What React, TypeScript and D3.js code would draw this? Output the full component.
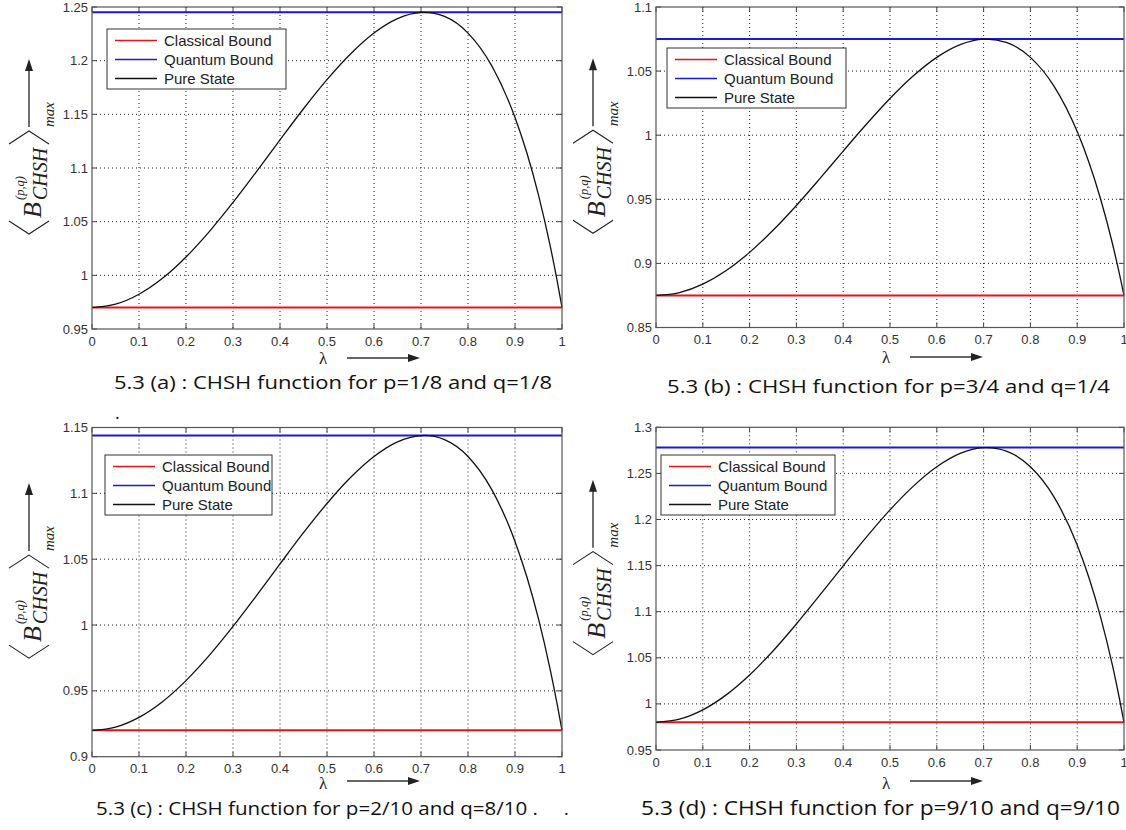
import React from "react";
import * as d3 from "d3";

// lambda samples
const lambdaGrid = [0, 0.05, 0.1, 0.15, 0.2, 0.25, 0.3, 0.35, 0.4, 0.45, 0.5, 0.55, 0.6, 0.65, 0.7, 0.7071, 0.75, 0.8, 0.85, 0.9, 0.925, 0.95, 0.975, 0.99, 1];

const pureStateA = [0.97, 0.9731, 0.9824, 0.9972, 1.0171, 1.041, 1.0679, 1.0967, 1.1262, 1.1552, 1.1823, 1.2062, 1.2257, 1.2391, 1.2449, 1.245, 1.2412, 1.2257, 1.1956, 1.1471, 1.1144, 1.0748, 1.0272, 0.9942, 0.97];
const pureStateB = [0.875, 0.8772, 0.8838, 0.8944, 0.9086, 0.9258, 0.9452, 0.9661, 0.9876, 1.0087, 1.0286, 1.0463, 1.0607, 1.0706, 1.0749, 1.075, 1.0722, 1.0607, 1.0385, 1.0028, 0.9789, 0.9502, 0.9159, 0.8922, 0.875];
const pureStateC = [0.92, 0.9225, 0.9299, 0.9418, 0.9578, 0.9771, 0.9989, 1.0223, 1.0464, 1.0701, 1.0923, 1.112, 1.128, 1.1391, 1.1439, 1.144, 1.1408, 1.128, 1.1032, 1.0635, 1.0368, 1.0046, 0.966, 0.9394, 0.92];
const pureStateD = [0.98, 0.9834, 0.9935, 1.0098, 1.0314, 1.0574, 1.0867, 1.1179, 1.1498, 1.1811, 1.2104, 1.2362, 1.2572, 1.2717, 1.2779, 1.278, 1.2739, 1.2572, 1.2248, 1.1724, 1.1371, 1.0942, 1.0425, 1.0064, 0.98];

const classicalBound = [0.97, 0.875, 0.92, 0.98];
const quantumBound = [1.245, 1.075, 1.144, 1.278];

const xTickValues = [0, 0.1, 0.2, 0.3, 0.4, 0.5, 0.6, 0.7, 0.8, 0.9, 1];
const yTicksA = [0.95, 1, 1.05, 1.1, 1.15, 1.2, 1.25];
const yTicksB = [0.85, 0.9, 0.95, 1, 1.05, 1.1];
const yTicksC = [0.9, 0.95, 1, 1.05, 1.1, 1.15];
const yTicksD = [0.95, 1, 1.05, 1.1, 1.15, 1.2, 1.25, 1.3];

const legendLabels = ["Classical Bound", "Quantum Bound", "Pure State"];
const captions = [
  "5.3 (a) : CHSH function for p=1/8 and q=1/8",
  "5.3 (b) : CHSH function for p=3/4 and q=1/4",
  "5.3 (c) : CHSH function for p=2/10 and q=8/10 .",
  "5.3 (d) : CHSH function for p=9/10 and q=9/10",
];

const series = [pureStateA, pureStateB, pureStateC, pureStateD];
const yTicks = [yTicksA, yTicksB, yTicksC, yTicksD];

// page layout of the four panels
const layout = [
  { left: 92, right: 562, top: 7, bottom: 329, legend: [107, 29, 179], caption: [114, 389, 438, 18], arrowY: 358, lambdaY: 364 },
  { left: 656, right: 1124, top: 7, bottom: 327.5, legend: [667, 48, 179], caption: [667, 393, 443, 18], arrowY: 357, lambdaY: 363 },
  { left: 92, right: 562, top: 427.5, bottom: 756.7, legend: [105, 455, 167], caption: [96, 815, 442, 18], arrowY: 781, lambdaY: 789 },
  { left: 656, right: 1124, top: 427.3, bottom: 750, legend: [661, 455, 174], caption: [641, 815, 479, 19.5], arrowY: 781, lambdaY: 789 },
];

const lineColors = ["#e8141b", "#1a1ad8", "#111"];
const sans = "'Liberation Sans', Arial, sans-serif";
const serif = "'Liberation Serif', 'DejaVu Serif', serif";
const fmt = d3.format("~g");

const YLabel = ({ x, cy }: { x: number; cy: number }) => {
  const ax = x - 63;
  return (
    <g>
      <line x1={ax} x2={ax} y1={cy - 41} y2={cy - 100} stroke="#333" strokeWidth={1.4} />
      <path d={`M${ax},${cy - 109} L${ax - 4},${cy - 97} L${ax + 4},${cy - 97} Z`} fill="#222" />
      <g transform={`translate(${x - 51},${cy}) rotate(-90)`} fill="#222" fontFamily={serif} fontStyle="italic">
        <path d="M-53,-32 L-66,-12 L-53,8" fill="none" stroke="#222" strokeWidth={1.1} />
        <text x={-50} y={0} fontSize={26}>B</text>
        <text x={-32} y={-17} fontSize={12.5}>(p,q)</text>
        <text x={-32} y={6} fontSize={20}>CHSH</text>
        <path d="M24,-32 L37,-12 L24,8" fill="none" stroke="#222" strokeWidth={1.1} />
        <text x={41} y={13} fontSize={15}>max</text>
      </g>
    </g>
  );
};

const Panel = ({ i }: { i: number }) => {
  const L = layout[i];
  const x = d3.scaleLinear().domain([0, 1]).range([L.left, L.right]);
  const yt = yTicks[i];
  const y = d3.scaleLinear().domain([yt[0], yt[yt.length - 1]]).range([L.bottom, L.top]);
  const pts = lambdaGrid.map((l, k) => [l, series[i][k]] as [number, number]);
  const line = d3
    .line<[number, number]>()
    .x((d) => x(d[0]))
    .y((d) => y(d[1]))
    .curve(d3.curveMonotoneX);
  const [lx, ly, lw] = L.legend;
  const [cx, cyCap, cw, cfs] = L.caption;
  const midX = (L.left + L.right) / 2;
  const midY = (L.top + L.bottom) / 2;
  const tickLen = 5;
  return (
    <g>
      {/* grid */}
      {xTickValues.slice(1, -1).map((t) => (
        <line key={"gx" + t} x1={x(t)} x2={x(t)} y1={L.top} y2={L.bottom} stroke="#222" strokeWidth={1} strokeDasharray="1 3" />
      ))}
      {yt.slice(1, -1).map((t) => (
        <line key={"gy" + t} x1={L.left} x2={L.right} y1={y(t)} y2={y(t)} stroke="#222" strokeWidth={1} strokeDasharray="1 3" />
      ))}
      {/* inward ticks on all sides */}
      {xTickValues.map((t) => (
        <g key={"tx" + t} stroke="#444">
          <line x1={x(t)} x2={x(t)} y1={L.bottom} y2={L.bottom - tickLen} />
          <line x1={x(t)} x2={x(t)} y1={L.top} y2={L.top + tickLen} />
        </g>
      ))}
      {yt.map((t) => (
        <g key={"ty" + t} stroke="#444">
          <line x1={L.left} x2={L.left + tickLen} y1={y(t)} y2={y(t)} />
          <line x1={L.right} x2={L.right - tickLen} y1={y(t)} y2={y(t)} />
        </g>
      ))}
      {/* bounds and curve */}
      <line x1={x(0)} x2={x(1)} y1={y(classicalBound[i])} y2={y(classicalBound[i])} stroke={lineColors[0]} strokeWidth={2} />
      <line x1={x(0)} x2={x(1)} y1={y(quantumBound[i])} y2={y(quantumBound[i])} stroke={lineColors[1]} strokeWidth={2} />
      <path d={line(pts) || ""} fill="none" stroke={lineColors[2]} strokeWidth={1.3} />
      {/* frame */}
      <rect x={L.left} y={L.top} width={L.right - L.left} height={L.bottom - L.top} fill="none" stroke="#555" strokeWidth={1.2} />
      {/* tick labels */}
      {xTickValues.map((t) => (
        <text key={"lx" + t} x={x(t)} y={L.bottom + 16.5} textAnchor="middle" fontSize={13} fontFamily={sans} fill="#333">
          {fmt(t)}
        </text>
      ))}
      {yt.map((t) => (
        <text key={"ly" + t} x={L.left - 4} y={y(t) + 4.5} textAnchor="end" fontSize={13} fontFamily={sans} fill="#333">
          {fmt(t)}
        </text>
      ))}
      {/* legend */}
      <rect x={lx} y={ly} width={lw} height={60} fill="#fff" stroke="#333" strokeWidth={1} />
      {legendLabels.map((lab, k) => {
        const yy = ly + 11.5 + k * 19;
        return (
          <g key={lab}>
            <line x1={lx + 8} x2={lx + 50} y1={yy} y2={yy} stroke={lineColors[k]} strokeWidth={1.6} />
            <text x={lx + 57} y={yy + 5} fontSize={15} fontFamily={sans} fill="#222">
              {lab}
            </text>
          </g>
        );
      })}
      {/* x label */}
      <text x={midX - 4} y={L.lambdaY} textAnchor="middle" fontSize={17} fontFamily={serif} fill="#222">
        λ
      </text>
      <line x1={midX + 20} x2={midX + 84} y1={L.arrowY} y2={L.arrowY} stroke="#333" strokeWidth={1.4} />
      <path d={`M${midX + 93},${L.arrowY} L${midX + 81},${L.arrowY - 4} L${midX + 81},${L.arrowY + 4} Z`} fill="#222" />
      <YLabel x={L.left} cy={midY} />
      {/* caption */}
      <text x={cx} y={cyCap} fontSize={cfs} fontFamily="'Open Sans', 'Noto Sans', sans-serif" fill="#111" textLength={cw} lengthAdjust="spacingAndGlyphs">
        {captions[i]}
      </text>
    </g>
  );
};

export default function App() {
  return (
    <svg width={1126} height={830} style={{ position: "absolute", left: 0, top: 0, display: "block", background: "#fff" }}>
      <rect x={0} y={0} width={1126} height={830} fill="#fff" />
      {[0, 1, 2, 3].map((i) => (
        <Panel key={i} i={i} />
      ))}
      <text x={115} y={419} fontSize={18} fontFamily="'Open Sans', sans-serif" fill="#111">.</text>
      <text x={564} y={815} fontSize={18} fontFamily="'Open Sans', sans-serif" fill="#111">.</text>
    </svg>
  );
}
